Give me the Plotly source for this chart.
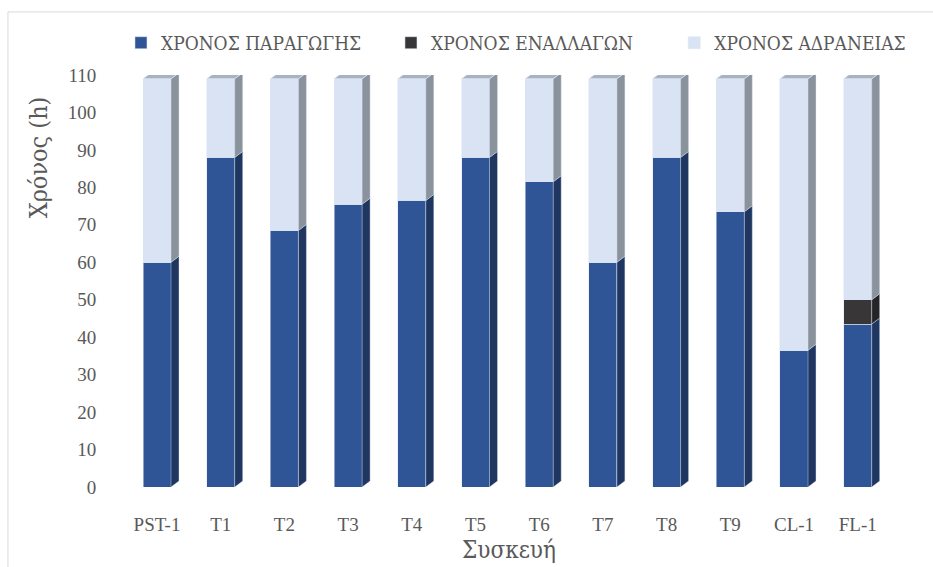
import plotly.graph_objects as go

# Device data (hours)
devices = ["PST-1", "T1", "T2", "T3", "T4", "T5", "T6", "T7", "T8", "T9", "CL-1", "FL-1"]
production = [60, 88, 68.5, 75.5, 76.5, 88, 81.5, 60, 88, 73.5, 36.5, 43.5]
switching = [0, 0, 0, 0, 0, 0, 0, 0, 0, 0, 0, 6.5]
idle = [49, 21, 40.5, 33.5, 32.5, 21, 27.5, 49, 21, 35.5, 72.5, 59]

series_names = ["ΧΡΟΝΟΣ ΠΑΡΑΓΩΓΗΣ", "ΧΡΟΝΟΣ ΕΝΑΛΛΑΓΩΝ", "ΧΡΟΝΟΣ ΑΔΡΑΝΕΙΑΣ"]
front_colors = ["#2F5597", "#383636", "#DAE3F3"]
side_colors = ["#1F3660", "#262525", "#8A929C"]
top_color = "#A8B3C2"

FONT = "Liberation Serif, Times New Roman, serif"
GREEK_FONT = "DejaVu Serif Condensed, DejaVu Serif, serif"
TXT = "#595959"

# geometry of the pseudo-3D columns (axis units)
BAR_W = 0.44
DX = 0.125   # depth offset along x
DY = 1.6     # depth offset along y

x_pos = list(range(len(devices)))
series = [production, switching, idle]
legend_ids = ["legend", "legend2", "legend3"]
legend_x = [0.0135, 0.3456, 0.694]

fig = go.Figure()

# front faces
for name, vals, col, lg in zip(series_names, series, front_colors, legend_ids):
    fig.add_trace(go.Bar(
        x=x_pos, y=vals, name=name, width=BAR_W,
        marker=dict(color=col, line=dict(color="rgba(220,230,245,0.9)", width=0.6)),
        showlegend=True, legend=lg,
    ))

# side faces, stacked like the bars
base = [0.0] * len(devices)
for vals, col in zip(series, side_colors):
    xs, ys = [], []
    for i, v in enumerate(vals):
        if v <= 0:
            continue
        xr = x_pos[i] + BAR_W / 2
        y0, y1 = base[i], base[i] + v
        xs += [xr, xr + DX, xr + DX, xr, xr, None]
        ys += [y0, y0 + DY, y1 + DY, y1, y0, None]
        base[i] = y1
    fig.add_trace(go.Scatter(
        x=xs, y=ys, mode="lines", fill="toself", fillcolor=col,
        line=dict(color="rgba(220,230,245,0.8)", width=0.5),
        hoverinfo="skip", showlegend=False,
    ))

# top faces
xs, ys = [], []
for i, top in enumerate(base):
    xl = x_pos[i] - BAR_W / 2
    xr = x_pos[i] + BAR_W / 2
    xs += [xl, xl + DX, xr + DX, xr, xl, None]
    ys += [top, top + DY, top + DY, top, top, None]
fig.add_trace(go.Scatter(
    x=xs, y=ys, mode="lines", fill="toself", fillcolor=top_color,
    line=dict(color="rgba(225,233,247,0.9)", width=0.8),
    hoverinfo="skip", showlegend=False,
))

legend_style = dict(
    orientation="h", y=1.078, xanchor="left", yanchor="middle",
    font=dict(family=GREEK_FONT, size=19, color=TXT), bgcolor="rgba(0,0,0,0)",
    itemwidth=30,
)

fig.update_layout(
    width=933, height=567,
    margin=dict(l=110, r=10, t=75, b=80),
    barmode="stack",
    paper_bgcolor="white", plot_bgcolor="white",
    font=dict(family=FONT, color=TXT, size=18),
    legend=dict(x=legend_x[0], **legend_style),
    legend2=dict(x=legend_x[1], **legend_style),
    legend3=dict(x=legend_x[2], **legend_style),
    xaxis=dict(
        range=[-0.738, 12.025], tickmode="array", tickvals=x_pos, ticktext=devices,
        showgrid=False, zeroline=False, showline=False,
        ticks="outside", ticklen=20, tickcolor="rgba(0,0,0,0)",
        tickfont=dict(family=FONT, size=19, color=TXT),
    ),
    yaxis=dict(
        range=[0, 110], tickmode="array", tickvals=list(range(0, 111, 10)),
        showgrid=False, zeroline=False, showline=False,
        ticks="outside", ticklen=9, tickcolor="rgba(0,0,0,0)",
        tickfont=dict(family=FONT, size=19, color=TXT),
    ),
    shapes=[dict(
        type="rect", xref="paper", yref="paper",
        x0=-0.1255, x1=1.03, y0=-0.25, y1=1.153,
        line=dict(color="#D9D9D9", width=1), fillcolor="rgba(0,0,0,0)", layer="below",
    )],
    annotations=[
        dict(text="Χρόνος (h)", xref="paper", yref="paper", x=-0.0886, y=0.80,
             xanchor="center", yanchor="middle",
             textangle=-90, showarrow=False, font=dict(family=GREEK_FONT, size=25, color=TXT)),
        dict(text="Συσκευή", xref="paper", yref="paper", x=0.491, y=-0.153,
             xanchor="center", yanchor="middle",
             showarrow=False, font=dict(family=GREEK_FONT, size=24, color=TXT)),
    ],
)

fig.write_html("out.html")
